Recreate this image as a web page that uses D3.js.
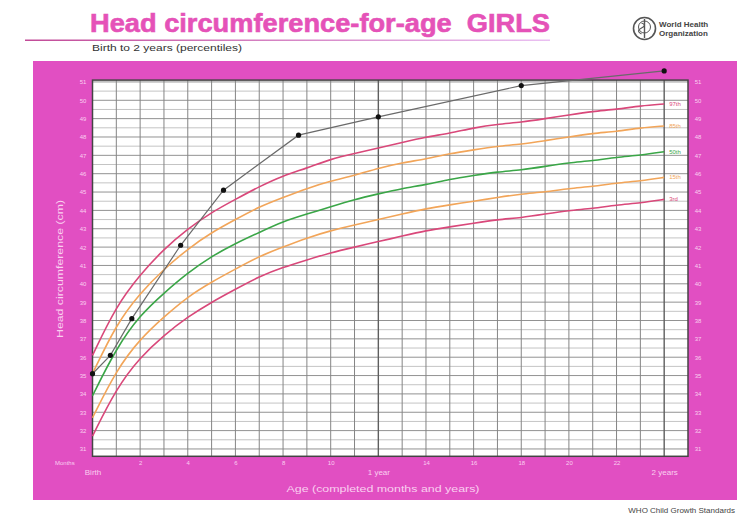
<!DOCTYPE html>
<html><head><meta charset="utf-8">
<script src="https://cdn.jsdelivr.net/npm/d3@7"></script>
<style>body{margin:0;background:#fff}svg{display:block;font-family:"Liberation Sans",Arial,sans-serif}</style>
</head><body>
<svg id="chart" width="750" height="515"></svg>
<script>
// ---- data ----
const months = [0,1,2,3,4,5,6,7,8,9,10,11,12,13,14,15,16,17,18,19,20,21,22,23,24];
const p3  = [31.7,34.3,36.0,37.2,38.2,39.0,39.7,40.4,40.9,41.3,41.7,42.0,42.3,42.6,42.9,43.1,43.3,43.5,43.6,43.8,44.0,44.1,44.3,44.4,44.6];
const p15 = [32.7,35.3,37.0,38.2,39.3,40.1,40.8,41.5,42.0,42.5,42.9,43.2,43.5,43.8,44.1,44.3,44.5,44.7,44.9,45.0,45.2,45.3,45.5,45.6,45.8];
const p50 = [33.9,36.5,38.3,39.5,40.6,41.5,42.2,42.8,43.4,43.8,44.2,44.6,44.9,45.2,45.4,45.7,45.9,46.1,46.2,46.4,46.6,46.7,46.9,47.0,47.2];
const p85 = [35.1,37.8,39.5,40.8,41.9,42.8,43.5,44.2,44.7,45.2,45.6,45.9,46.3,46.6,46.8,47.1,47.3,47.5,47.6,47.8,48.0,48.2,48.3,48.5,48.6];
const p97 = [36.1,38.8,40.5,41.9,43.0,43.9,44.6,45.3,45.9,46.3,46.8,47.1,47.4,47.7,48.0,48.2,48.5,48.7,48.8,49.0,49.2,49.4,49.5,49.7,49.8];
const percentileNames = ["97th","85th","50th","15th","3rd"];
const childAge = [0,0.75,1.65,3.7,5.5,8.65,12,18,24];
const childHC  = [35.1,36.1,38.1,42.1,45.1,48.1,49.1,50.8,51.6];
const yTicks = [31,32,33,34,35,36,37,38,39,40,41,42,43,44,45,46,47,48,49,50,51];
const monthTicks = [2,4,6,8,10,14,16,18,20,22];
const yearTicks = [0,12,24];
const yearLabels = ["Birth","1 year","2 years"];

// ---- styles ----
const pink = "#e14fc2";
const labelPink = "#fad0f0";
const curveColors = ["#d9487a","#f2a559","#3aa647","#f2a559","#d9487a"];

const svg = d3.select("#chart");
const x = d3.scaleLinear().domain([0,25]).range([92.5,688]);
const y = d3.scaleLinear().domain([30.6,51.1]).range([456.3,80.1]);

// header
svg.append("text").attr("x",90).attr("y",32).attr("font-size",25).attr("font-weight","bold")
  .attr("fill","#e552b8").attr("stroke","#e552b8").attr("stroke-width",0.6)
  .attr("textLength",460).attr("lengthAdjust","spacingAndGlyphs")
  .style("white-space","pre").text("Head circumference-for-age  GIRLS");
const grad = svg.append("defs").append("linearGradient").attr("id","ul");
grad.append("stop").attr("offset","0%").attr("stop-color","#c24b98");
grad.append("stop").attr("offset","100%").attr("stop-color","#eac0f2");
svg.append("rect").attr("x",25).attr("y",39.5).attr("width",525).attr("height",1.5).attr("fill","url(#ul)");
svg.append("text").attr("x",92).attr("y",51).attr("font-size",9.5).attr("fill","#333")
  .attr("textLength",150).attr("lengthAdjust","spacingAndGlyphs").text("Birth to 2 years (percentiles)");

// WHO logo
const logo = svg.append("g").attr("stroke","#555").attr("fill","none");
logo.append("circle").attr("cx",644.5).attr("cy",28.5).attr("r",11).attr("stroke-width",1.6);
logo.append("circle").attr("cx",644.5).attr("cy",27).attr("r",6).attr("stroke-width",1);
logo.append("line").attr("x1",644.5).attr("x2",644.5).attr("y1",19).attr("y2",38).attr("stroke-width",1.4);
logo.append("path").attr("d","M641.5,23 q6,2 0,5 q-6,3 0,6").attr("stroke-width",1.2);
svg.append("text").attr("x",659).attr("y",27).attr("font-size",8).attr("font-weight","bold").attr("fill","#444").text("World Health");
svg.append("text").attr("x",659).attr("y",36).attr("font-size",8).attr("font-weight","bold").attr("fill","#444").text("Organization");

// frame
svg.append("rect").attr("x",33).attr("y",61).attr("width",704).attr("height",439).attr("fill",pink);
svg.append("rect").attr("x",x(0)).attr("y",y(51.1)).attr("width",x(25)-x(0)).attr("height",y(30.6)-y(51.1)).attr("fill","#fff");

// grid
const grid = svg.append("g");
const hLines = d3.range(31,51.01,0.5);
grid.selectAll("line.h").data(hLines).join("line").attr("class","h")
  .attr("x1",x(0)).attr("x2",x(25)).attr("y1",d=>y(d)).attr("y2",d=>y(d))
  .attr("stroke",d=>Number.isInteger(d)?"#929292":"#c4c4c4").attr("stroke-width",1);
grid.selectAll("line.v").data(months.slice(1)).join("line").attr("class","v")
  .attr("x1",d=>x(d)).attr("x2",d=>x(d)).attr("y1",y(51.1)).attr("y2",y(30.6))
  .attr("stroke",d=>(d%12===0)?"#5e5e5e":"#858585").attr("stroke-width",d=>(d%12===0)?1.4:1);
svg.append("rect").attr("x",x(0)).attr("y",y(51.1)).attr("width",x(25)-x(0)).attr("height",y(30.6)-y(51.1))
  .attr("fill","none").attr("stroke","#444").attr("stroke-width",1.5);

// axes labels
const yl = d3.axisLeft(y).tickValues(yTicks).tickSize(0).tickPadding(0);
svg.append("g").attr("transform","translate(83,0)").call(yl)
  .call(g=>g.select(".domain").remove())
  .call(g=>g.selectAll("text").attr("fill",labelPink).attr("font-size",6).attr("text-anchor","middle"));
const yr = d3.axisRight(y).tickValues(yTicks).tickSize(0).tickPadding(0);
svg.append("g").attr("transform","translate(698,0)").call(yr)
  .call(g=>g.select(".domain").remove())
  .call(g=>g.selectAll("text").attr("fill",labelPink).attr("font-size",6).attr("text-anchor","middle"));
const xm = d3.axisBottom(x).tickValues(monthTicks).tickSize(0).tickPadding(4);
svg.append("g").attr("transform",`translate(0,${y(30.6)})`).call(xm)
  .call(g=>g.select(".domain").remove())
  .call(g=>g.selectAll("text").attr("fill",labelPink).attr("font-size",6));
const xy = d3.axisBottom(x).tickValues(yearTicks).tickSize(0).tickPadding(13)
  .tickFormat((d,i)=>yearLabels[i]);
svg.append("g").attr("transform",`translate(0,${y(30.6)})`).call(xy)
  .call(g=>g.select(".domain").remove())
  .call(g=>g.selectAll("text").attr("fill",labelPink).attr("font-size",8));
svg.append("text").attr("x",55).attr("y",465).attr("font-size",6).attr("fill",labelPink).text("Months");
svg.append("text").attr("x",383).attr("y",492).attr("font-size",9).attr("fill",labelPink)
  .attr("text-anchor","middle").attr("textLength",193).attr("lengthAdjust","spacingAndGlyphs")
  .text("Age (completed months and years)");
svg.append("text").attr("transform","translate(63,269) rotate(-90)").attr("font-size",9).attr("fill",labelPink)
  .attr("text-anchor","middle").attr("textLength",138).attr("lengthAdjust","spacingAndGlyphs")
  .text("Head circumference (cm)");

// percentile curves
const series = [p97,p85,p50,p15,p3];
const line = d3.line().x((d,i)=>x(months[i])).y(d=>y(d)).curve(d3.curveBasis);
svg.append("g").selectAll("path").data(series).join("path")
  .attr("d",line).attr("fill","none").attr("stroke",(d,i)=>curveColors[i]).attr("stroke-width",1.6);
svg.append("g").selectAll("text").data(series).join("text")
  .attr("x",x(24)+5).attr("y",d=>y(d[d.length-1])).attr("dy","0.35em")
  .attr("font-size",6).attr("fill",(d,i)=>curveColors[i]).text((d,i)=>percentileNames[i]);

// child measurements
const child = childAge.map((a,i)=>[a,childHC[i]]);
svg.append("path").datum(child).attr("d",d3.line().x(d=>x(d[0])).y(d=>y(d[1])))
  .attr("fill","none").attr("stroke","#6a6a6a").attr("stroke-width",1.2);
svg.append("g").selectAll("circle").data(child).join("circle")
  .attr("cx",d=>x(d[0])).attr("cy",d=>y(d[1])).attr("r",2.6).attr("fill","#111");

// footer
svg.append("text").attr("x",735).attr("y",513).attr("text-anchor","end").attr("font-size",8)
  .attr("fill","#444").text("WHO Child Growth Standards");
</script>
</body></html>
